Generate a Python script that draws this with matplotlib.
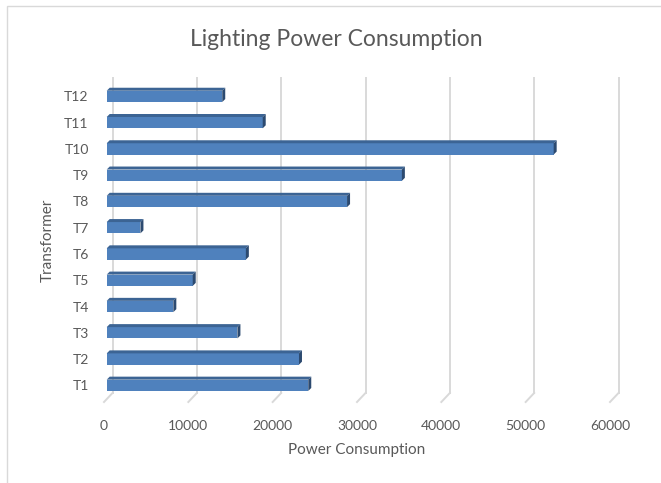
import numpy as np
import matplotlib
matplotlib.use("Agg")
import matplotlib.pyplot as plt
from matplotlib.patches import Polygon, Rectangle

# data
transformers = ["T1", "T2", "T3", "T4", "T5", "T6", "T7", "T8", "T9", "T10", "T11", "T12"]
power = [23900, 22800, 15500, 7900, 10200, 16500, 4000, 28500, 35000, 53000, 18500, 13700]
xticks = [0, 10000, 20000, 30000, 40000, 50000, 60000]

W, H = 661, 483
plt.rcParams['font.family'] = ['Lato', 'DejaVu Sans']
text_col = '#595959'

fig = plt.figure(figsize=(W / 100, H / 100), dpi=100)
# axes box in pixels: front plane from x=104 to 610, y=78 to 402
ax = fig.add_axes([104 / W, 1 - 402 / H, (610 - 104) / W, (402 - 78) / H])
ax.set_xlim(0, 60000)
ax.set_ylim(-0.636, 11.70)

px_x = 60000 / 506.0      # data units per pixel (x)
px_y = 1 / 26.27          # data units per pixel (y)

# back wall offset for the 3d look
back_dx = 8.5 * px_x
back_dy = 9 * px_y
floor_front = -0.636
floor_back = floor_front + back_dy

grid_col = '#d9d9d9'
for v in xticks:
    ax.plot([v + back_dx, v + back_dx], [floor_back, 11.70], color=grid_col, lw=1.4,
            clip_on=False, zorder=1)
    ax.plot([v, v + back_dx], [floor_front, floor_back], color=grid_col, lw=1.4,
            clip_on=False, zorder=1)

# bars with a thin top face and side face
front_col = '#4f81bd'
top_col = '#3c6494'
side_col = '#2c4a70'
h = 11.3 * px_y
bx0 = 2.7 * px_x
ddx = 3 * px_x
ddy = 3 * px_y
for i, v in enumerate(power):
    y0 = i - h / 2
    y1 = i + h / 2
    x1 = bx0 + v
    ax.add_patch(Rectangle((bx0, y0), v, h, facecolor=front_col, edgecolor='none', zorder=3))
    ax.add_patch(Polygon([(bx0, y1), (x1, y1), (x1 + ddx, y1 + ddy), (bx0 + ddx, y1 + ddy)],
                         closed=True, facecolor=top_col, edgecolor='none', zorder=3))
    ax.add_patch(Polygon([(x1, y0), (x1, y1), (x1 + ddx, y1 + ddy), (x1 + ddx, y0 + ddy)],
                         closed=True, facecolor=side_col, edgecolor='none', zorder=3))

ax.set_yticks(range(len(transformers)))
ax.set_yticklabels(transformers)
ax.set_xticks(xticks)
ax.set_xticklabels([str(t) for t in xticks])
ax.tick_params(axis='both', length=0, labelsize=10, colors=text_col)
ax.tick_params(axis='y', pad=11)
ax.tick_params(axis='x', pad=13)
for s in ax.spines.values():
    s.set_visible(False)
ax.set_facecolor('none')

ax.set_xlabel("Power Consumption", fontsize=11, color=text_col, labelpad=8)
ax.set_ylabel("Transformer", fontsize=11, color=text_col, labelpad=7)
fig.text(336 / W, 1 - 39 / H, "Lighting Power Consumption", fontsize=16.5, color=text_col,
         ha='center', va='center', fontweight='normal')

# chart border
fig.patches.append(Rectangle((7 / W, -0.1), 1.2, 1 - 6 / H + 0.1, transform=fig.transFigure,
                             fill=False, edgecolor='#d9d9d9', lw=1.0))

fig.savefig("out.png", dpi=100)
